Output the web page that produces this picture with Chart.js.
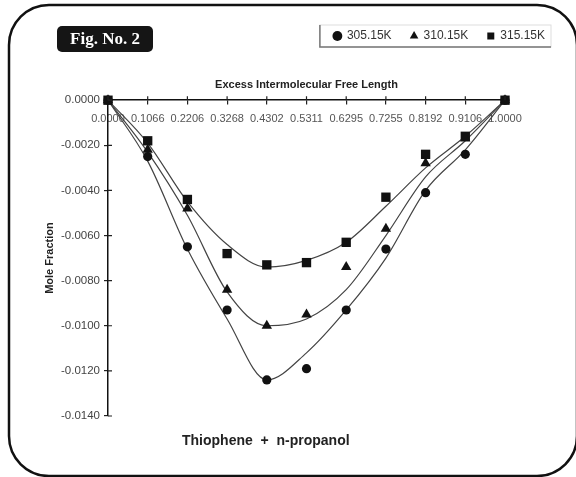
<!DOCTYPE html>
<html>
<head>
<meta charset="utf-8">
<script src="https://cdn.jsdelivr.net/npm/chart.js@4.4.1/dist/chart.umd.min.js"></script>
<style>
  html, body { margin: 0; padding: 0; background: #fff; }
  #wrap { width: 576px; height: 477px; }
</style>
</head>
<body>
<div id="wrap"><canvas id="myChart" width="576" height="477"></canvas></div>
<script>
// Dữ liệu
const fractions = ['0.0000', '0.1066', '0.2206', '0.3268', '0.4302', '0.5311', '0.6295', '0.7255', '0.8192', '0.9106', '1.0000'];
const seriesNames = ['305.15K', '310.15K', '315.15K'];

// Điểm đo
const val305 = [0, -0.0025, -0.0065, -0.0093, -0.0124, -0.0119, -0.0093, -0.0066, -0.0041, -0.0024, 0];
const val310 = [0, -0.0022, -0.0048, -0.0084, -0.0100, -0.0095, -0.0074, -0.0057, -0.0028, -0.0017, 0];
const val315 = [0, -0.0018, -0.0044, -0.0068, -0.0073, -0.0072, -0.0063, -0.0043, -0.0024, -0.0016, 0];

// Đường xu hướng (đọc theo đường cong trên hình)
const fit305 = [0, -0.0027, -0.0066, -0.0097, -0.0124, -0.0112, -0.0093, -0.0070, -0.0040, -0.0022, 0];
const fit310 = [0, -0.0023, -0.0051, -0.0085, -0.0100, -0.0097, -0.0084, -0.0060, -0.0034, -0.0018, 0];
const fit315 = [0, -0.0019, -0.0045, -0.0064, -0.0074, -0.0071, -0.0063, -0.0047, -0.0030, -0.0016, 0];

const yTickValues = [0, -0.002, -0.004, -0.006, -0.008, -0.010, -0.012, -0.014];

const FONT = "'Liberation Sans', Arial, sans-serif";

function markerSet(label, data, style, radius) {
  return {
    label: label, data: data, showLine: false, order: 0, clip: false,
    pointStyle: style, pointRadius: radius, pointHoverRadius: radius,
    backgroundColor: '#111', borderColor: '#111', borderWidth: 0
  };
}

function fitSet(data) {
  return {
    label: 'fit', data: data, order: 1, pointRadius: 0, borderColor: '#444',
    borderWidth: 1.2, fill: false, cubicInterpolationMode: 'monotone'
  };
}

// Khung, hộp "Fig. No. 2", khung chú giải, chú thích dưới
const decorPlugin = {
  id: 'decor',
  beforeDraw(chart) {
    const ctx = chart.ctx;
    ctx.save();
    ctx.fillStyle = '#fff';
    ctx.fillRect(0, 0, chart.width, chart.height);
    ctx.restore();
  },
  afterDraw(chart) {
    const ctx = chart.ctx;
    ctx.save();
    // khung bo tròn
    ctx.strokeStyle = '#111';
    ctx.lineWidth = 2.5;
    ctx.beginPath();
    ctx.roundRect(9, 5, 568, 471, 40);
    ctx.stroke();

    // hộp Fig. No. 2
    ctx.fillStyle = '#151515';
    ctx.beginPath();
    ctx.roundRect(57, 26, 96, 26, 5);
    ctx.fill();
    ctx.fillStyle = '#fff';
    ctx.font = "bold 17px 'Liberation Serif', 'Times New Roman', serif";
    ctx.textAlign = 'center';
    ctx.textBaseline = 'middle';
    ctx.fillText('Fig. No. 2', 105, 40);

    // khung chú giải
    const boxes = chart.legend.legendHitBoxes;
    if (boxes && boxes.length) {
      const first = boxes[0];
      const last = boxes[boxes.length - 1];
      const l = first.left - 14, r = last.left + last.width + 6;
      const t = first.top - 5, b = first.top + first.height + 5;
      ctx.strokeStyle = '#ddd';
      ctx.lineWidth = 1;
      ctx.strokeRect(l, t, r - l, b - t);
      ctx.strokeStyle = '#777';
      ctx.lineWidth = 1.5;
      ctx.beginPath();
      ctx.moveTo(l, t);
      ctx.lineTo(l, b);
      ctx.lineTo(r, b);
      ctx.stroke();
    }

    // nửa vạch chia phía trong
    const xs = chart.scales.x, ys = chart.scales.y;
    ctx.strokeStyle = '#222';
    ctx.lineWidth = 1.2;
    ctx.beginPath();
    xs.ticks.forEach((t, i) => {
      const px = xs.getPixelForTick(i);
      ctx.moveTo(px, ys.top);
      ctx.lineTo(px, ys.top - 4);
    });
    ys.ticks.forEach((t, i) => {
      const py = ys.getPixelForTick(i);
      ctx.moveTo(xs.left, py);
      ctx.lineTo(xs.left + 4, py);
    });
    ctx.stroke();

    // chú thích dưới
    ctx.fillStyle = '#222';
    ctx.font = 'bold 14px ' + FONT;
    ctx.textAlign = 'left';
    ctx.textBaseline = 'middle';
    ctx.fillText('Thiophene  +  n-propanol', 182, 441);
    ctx.restore();
  }
};

const ctx = document.getElementById('myChart').getContext('2d');
new Chart(ctx, {
  type: 'line',
  data: {
    labels: fractions,
    datasets: [
      markerSet(seriesNames[0], val305, 'circle', 4.6),
      markerSet(seriesNames[1], val310, 'triangle', 6),
      markerSet(seriesNames[2], val315, 'rect', 6.6),
      fitSet(fit305),
      fitSet(fit310),
      fitSet(fit315)
    ]
  },
  options: {
    responsive: false,
    animation: false,
    devicePixelRatio: 1,
    layout: { padding: { top: 11, left: 0, right: 12, bottom: 61 } },
    plugins: {
      legend: {
        position: 'top',
        align: 'end',
        weight: 3000,
        labels: {
          filter: (item) => item.datasetIndex < 3,
          usePointStyle: true,
          boxHeight: 7,
          boxWidth: 7,
          padding: 19,
          color: '#333',
          font: { family: FONT, size: 12 }
        }
      },
      title: {
        display: true,
        fullSize: false,
        weight: 500,
        text: 'Excess Intermolecular Free Length',
        color: '#222',
        font: { family: FONT, size: 11, weight: 'bold' },
        padding: { top: 26, bottom: 9 }
      },
      tooltip: { enabled: false }
    },
    scales: {
      x: {
        type: 'category',
        position: { y: 0 },
        offset: false,
        grid: { display: true, drawOnChartArea: false, tickLength: 4, color: '#222', lineWidth: 1.2 },
        border: { display: true, color: '#111', width: 1.5 },
        ticks: { color: '#555', font: { family: FONT, size: 11 }, padding: 8, maxRotation: 0, autoSkip: false },
        afterFit: (s) => { s.height = 0; }
      },
      y: {
        type: 'linear',
        position: 'left',
        min: -0.014,
        max: 0,
        afterBuildTicks: (s) => { s.ticks = yTickValues.map(v => ({ value: v })); },
        grid: { display: true, drawOnChartArea: false, tickLength: 4, color: '#222', lineWidth: 1.2 },
        border: { display: true, color: '#111', width: 1.5 },
        ticks: {
          color: '#444', padding: 4,
          font: { family: FONT, size: 11.5 },
          callback: (v) => Number(v).toFixed(4)
        },
        title: {
          display: true, text: 'Mole Fraction', color: '#222',
          font: { family: FONT, size: 11, weight: 'bold' },
          padding: { top: 43, bottom: 0 }
        },
        afterFit: (s) => { s.width = 108; }
      },
      yr: {
        type: 'linear',
        position: 'right',
        display: true,
        grid: { display: false },
        border: { display: false },
        ticks: { display: false },
        afterFit: (s) => { s.width = 59; }
      }
    }
  },
  plugins: [decorPlugin]
});
</script>
</body>
</html>
